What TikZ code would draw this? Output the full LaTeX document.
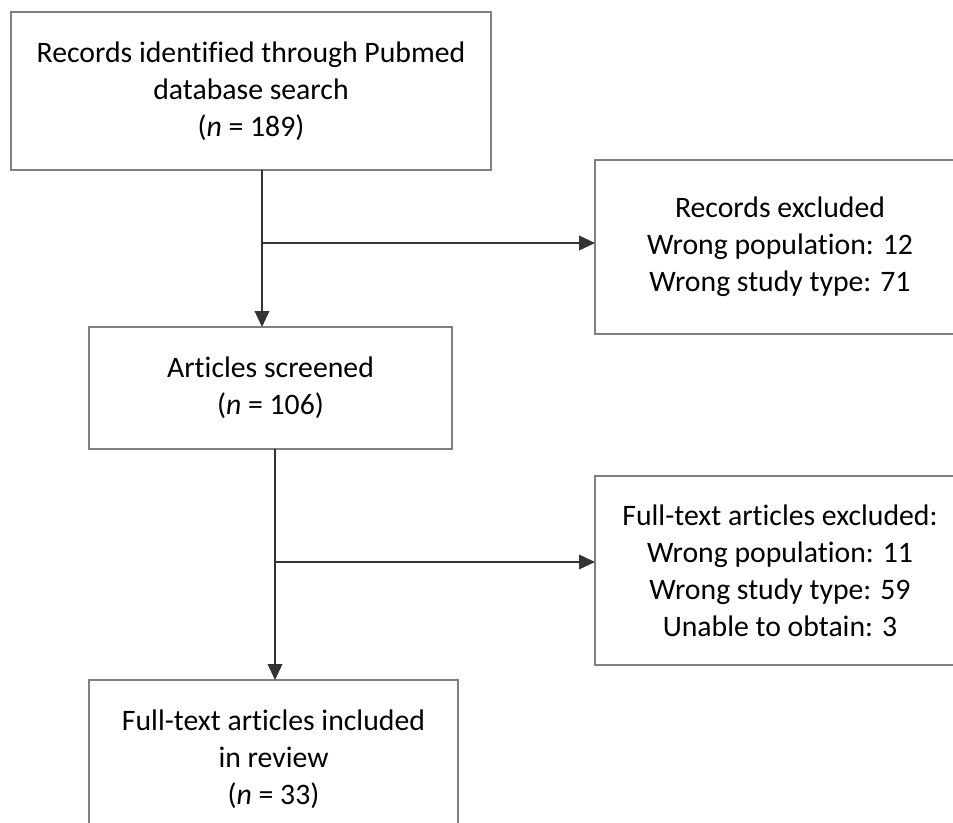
\documentclass[tikz,border=0pt]{standalone}
\usepackage{fontspec}
\setmainfont{Carlito}[Ligatures={NoCommon,NoRequired,NoContextual},RawFeature={-liga;-clig;-dlig}]
\usetikzlibrary{arrows.meta}
\begin{document}
\begin{tikzpicture}[x=0.75pt,y=-0.75pt,
  box/.style={draw=black!50, line width=1pt, fill=none, inner sep=0pt, outer sep=0pt,
    align=center, font=\fontsize{22.3pt}{27.8pt}\selectfont},
  conn/.style={draw=black!80, line width=1.1pt, -{Triangle[length=12pt,width=11pt]}},
  plain/.style={draw=black!80, line width=1.1pt}]
\useasboundingbox (0,0) rectangle (953,822);
\node[box, minimum width=360pt, minimum height=118.5pt] (b1) at (251,91)
  {Records identified through Pubmed\\database search\\(\textit{n} = 189)};
\node[box, minimum width=277.5pt, minimum height=130.5pt] (b2) at (780,247)
  {Records excluded\\Wrong population: 12\\Wrong study type: 71};
\node[box, minimum width=272.25pt, minimum height=91.5pt] (b3) at (270.5,388)
  {Articles screened\\(\textit{n} = 106)};
\node[box, minimum width=277.5pt, minimum height=141.75pt] (b4) at (780,570.5)
  {Full-text articles excluded:\\Wrong population: 11\\Wrong study type: 59\\Unable to obtain: 3};
\node[box, minimum width=276.75pt, minimum height=118.5pt] (b5) at (273.5,759)
  {Full-text articles included\\in review\\(\textit{n} = 33)};
\coordinate (j1) at (262,243);
\coordinate (j2) at (275,562);
\draw[conn] (b1.south -| j1) -- (b3.north -| j1);
\draw[conn] (j1) -- (j1 -| b2.west);
\draw[conn] (b3.south -| j2) -- (b5.north -| j2);
\draw[conn] (j2) -- (j2 -| b4.west);
\end{tikzpicture}
\end{document}
